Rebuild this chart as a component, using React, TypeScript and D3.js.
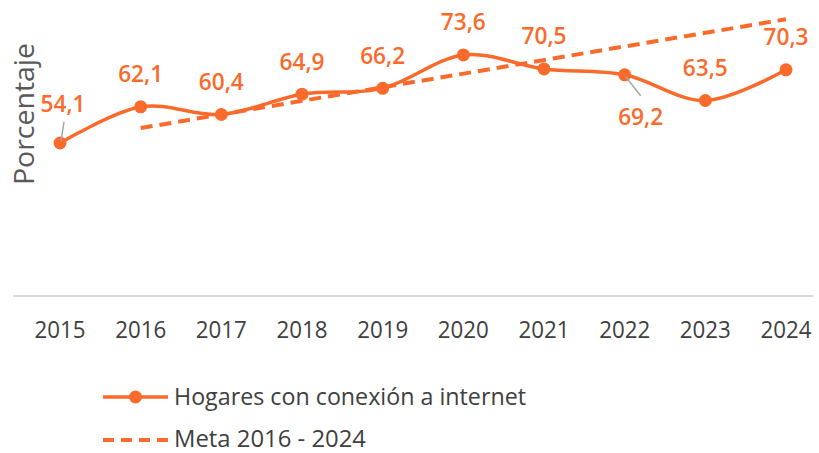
import React from "react";
import * as d3 from "d3";

const years = ["2015", "2016", "2017", "2018", "2019", "2020", "2021", "2022", "2023", "2024"];
const hogares = [54.1, 62.1, 60.4, 64.9, 66.2, 73.6, 70.5, 69.2, 63.5, 70.3];
const metaYears = ["2016", "2024"];
const metaValues = [57.4, 81.5];
const seriesNames = ["Hogares con conexión a internet", "Meta 2016 - 2024"];
const yTitle = "Porcentaje";

// label offsets (dx, dy of baseline relative to point, leader line)
const labelOffsets: [number, number, boolean][] = [
  [3, -31, true],
  [0, -24.5, false],
  [0, -24.5, false],
  [0, -24.5, false],
  [0, -24.5, false],
  [0, -24.5, false],
  [0, -24.5, false],
  [16, 50, true],
  [0, -24.5, false],
  [0, -24.5, false],
];

const ORANGE = "#FA6B2B";
const W = 819;
const H = 453;

export default function App() {
  const x = d3.scalePoint<string>().domain(years).range([60, 786]);
  const y = d3.scaleLinear().domain([20, 80]).range([297, 26]);

  const pts: [number, number][] = years.map((yr, i) => [x(yr)!, y(hogares[i])]);
  const line = d3.line<[number, number]>().curve(d3.curveCardinal.tension(0));
  const metaPts: [number, number][] = metaYears.map((yr, i) => [x(yr)!, y(metaValues[i])]);
  const metaLine = d3.line<[number, number]>();

  const fmt = (v: number) => v.toFixed(1).replace(".", ",");
  const font = "'Open Sans', 'DejaVu Sans', sans-serif";

  return (
    <svg width={W} height={H} style={{ position: "absolute", left: 0, top: 0, background: "#fff" }}>
      {/* axis line */}
      <line x1={13} x2={813} y1={296} y2={296} stroke="#D9D9D9" strokeWidth={2} />
      {/* year labels */}
      {years.map((yr) => (
        <text key={yr} x={x(yr)} y={338} textAnchor="middle" fontFamily={font} fontSize={23.5} fill="#404040" textLength={51} lengthAdjust="spacingAndGlyphs">
          {yr}
        </text>
      ))}
      {/* y title */}
      <text
        transform={`translate(34,114) rotate(-90)`}
        textAnchor="middle"
        fontFamily={font}
        fontSize={27}
        fill="#595959"
        textLength={142}
        lengthAdjust="spacingAndGlyphs"
      >
        {yTitle}
      </text>
      {/* meta dashed line */}
      <path d={metaLine(metaPts)!} fill="none" stroke={ORANGE} strokeWidth={4} strokeDasharray="12,7" />
      {/* main line */}
      <path d={line(pts)!} fill="none" stroke={ORANGE} strokeWidth={3.5} strokeLinejoin="round" />
      {pts.map((p, i) => (
        <circle key={i} cx={p[0]} cy={p[1]} r={6.5} fill={ORANGE} />
      ))}
      {/* leader lines */}
      {pts.map((p, i) => {
        const [dx, dy, leader] = labelOffsets[i];
        if (!leader) return null;
        if (dy < 0) {
          return <line key={"l" + i} x1={p[0] + 1} y1={p[1] - 2} x2={p[0] + 4} y2={p[1] + dy + 10} stroke="#A6A6A6" strokeWidth={1.5} />;
        }
        return <line key={"l" + i} x1={p[0] + 1} y1={p[1] + 2} x2={p[0] + 16} y2={p[1] + 21} stroke="#A6A6A6" strokeWidth={1.5} />;
      })}
      {/* data labels */}
      {pts.map((p, i) => {
        const [dx, dy] = labelOffsets[i];
        return (
          <text
            key={"t" + i}
            x={p[0] + dx}
            y={p[1] + dy}
            textAnchor="middle"
            fontFamily={font}
            fontSize={23}
            fontWeight={600}
            fill={ORANGE}
            textLength={45}
            lengthAdjust="spacingAndGlyphs"
          >
            {fmt(hogares[i])}
          </text>
        );
      })}
      {/* legend */}
      <line x1={103} x2={168} y1={397} y2={397} stroke={ORANGE} strokeWidth={3.5} />
      <circle cx={135.5} cy={397} r={6.5} fill={ORANGE} />
      <text x={174} y={405} fontFamily={font} fontSize={23} fill="#404040" textLength={352} lengthAdjust="spacingAndGlyphs">
        {seriesNames[0]}
      </text>
      <line x1={103} x2={168} y1={440} y2={440} stroke={ORANGE} strokeWidth={4} strokeDasharray="11,7" />
      <text x={174} y={447} fontFamily={font} fontSize={23} fill="#404040" textLength={192} lengthAdjust="spacingAndGlyphs">
        {seriesNames[1]}
      </text>
    </svg>
  );
}
